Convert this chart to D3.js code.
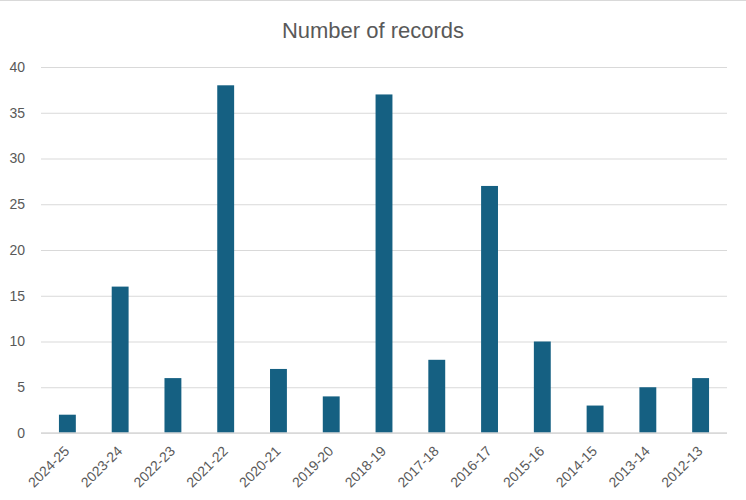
<!DOCTYPE html>
<html><head><meta charset="utf-8">
<script src="https://cdn.jsdelivr.net/npm/d3@7"></script>
<style>body{margin:0;background:#fff;}svg{display:block;}</style>
</head><body>
<svg id="c" width="746" height="500"></svg>
<script>
const categories = ["2024-25","2023-24","2022-23","2021-22","2020-21","2019-20","2018-19","2017-18","2016-17","2015-16","2014-15","2013-14","2012-13"];
const values = [2,16,6,38,7,4,37,8,27,10,3,5,6];
const yTicks = [0,5,10,15,20,25,30,35,40];
const title = "Number of records";

const svg = d3.select("#c");
const W = 746, H = 500;
const m = {left:41, right:19, top:67, bottom:67};
const font = "'Liberation Sans', Arial, sans-serif";
const grey = "#595959";

svg.append("rect").attr("x",0).attr("y",0).attr("width",W).attr("height",H).attr("fill","#fff");
svg.append("line").attr("x1",0).attr("x2",W).attr("y1",0.5).attr("y2",0.5).attr("stroke","#d9d9d9");

const x = d3.scaleBand().domain(categories).range([m.left, W-m.right]).paddingInner(0.68).paddingOuter(0.34);
const y = d3.scaleLinear().domain([0,40]).range([H-m.bottom, m.top]);

const ga = svg.append("g").attr("transform",`translate(${m.left},0)`)
  .call(d3.axisLeft(y).tickValues(yTicks).tickSize(-(W-m.left-m.right)).tickPadding(16));
ga.select(".domain").remove();
ga.selectAll(".tick line").attr("stroke","#d9d9d9").attr("stroke-width",1);
ga.selectAll(".tick text").attr("fill",grey).style("font-family",font).style("font-size","14px");

svg.append("g").selectAll("rect").data(values).join("rect")
  .attr("x",(d,i)=>x(categories[i])).attr("width",x.bandwidth())
  .attr("y",d=>y(d)).attr("height",d=>y(0)-y(d)).attr("fill","#156082");

const gx = svg.append("g").attr("transform",`translate(0,${y(0)})`)
  .call(d3.axisBottom(x).tickSize(0).tickPadding(0));
gx.select(".domain").attr("stroke","#d9d9d9").attr("stroke-width",1.5)
  .attr("d",`M${m.left},0H${W-m.right}`);
gx.selectAll(".tick text").attr("fill",grey).style("font-family",font).style("font-size","14px")
  .attr("text-anchor","end").attr("dy",null)
  .attr("transform","translate(3,19) rotate(-45)");

svg.append("text").attr("x",373).attr("y",38).attr("text-anchor","middle")
  .attr("fill",grey).style("font-family",font).style("font-size","22px").text(title);
</script>
</body></html>
